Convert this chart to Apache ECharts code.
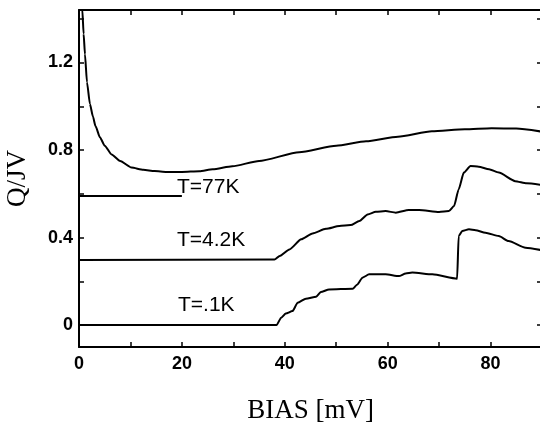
<!DOCTYPE html>
<html lang='en'>
  <head>
    <meta charset='utf-8'>
    <title>Q/JV vs BIAS</title>
  </head>
  <body style="margin:0;background:#fff;">
    <div id="main" style="width:540px;height:427px;"></div>
    <script src="https://cdn.jsdelivr.net/npm/echarts@6/dist/echarts.min.js"></script>
    <script>
      // T=77K curve
      var x77 = [0.3, 0.64, 0.9, 1.16, 1.55, 2.13, 2.7, 3.2, 4.07, 5, 6.34, 8, 10.2, 12.5, 14.7, 17, 20, 23.4, 26, 29.8, 35, 42.8, 50, 55.8, 62, 68.6, 75, 80.2, 85, 90];
      var y77 = [1.7, 1.443, 1.33, 1.238, 1.11, 1.01, 0.954, 0.91, 0.858, 0.82, 0.78, 0.75, 0.72, 0.71, 0.704, 0.7, 0.7, 0.703, 0.712, 0.726, 0.75, 0.79, 0.82, 0.84, 0.861, 0.886, 0.895, 0.9, 0.898, 0.884];
      // short flat segment next to the T=77K label
      var x77flat = [0, 20];
      var y77flat = [0.59, 0.59];
      // T=4.2K
      var x42 = [0, 38, 39, 40.9, 43.2, 45.4, 48, 50.6, 52.8, 54.5, 56.1, 57.7, 59.6, 61.6, 64.1, 66.1, 70, 71.9, 72.9, 73.8, 74.8, 76.1, 77.7, 79.7, 81.6, 84.8, 87, 90];
      var y42 = [0.298, 0.3, 0.316, 0.346, 0.392, 0.419, 0.44, 0.453, 0.457, 0.476, 0.506, 0.518, 0.521, 0.514, 0.526, 0.526, 0.517, 0.521, 0.544, 0.62, 0.697, 0.727, 0.724, 0.712, 0.697, 0.658, 0.648, 0.64];
      // T=.1K
      var x01 = [0, 38.4, 39.3, 40.2, 41.5, 42.5, 44.1, 46.1, 47, 48.6, 53.2, 54.1, 55.1, 56.4, 59.6, 62.2, 63.5, 64.8, 68.7, 73.5, 73.8, 74.5, 75.8, 77.1, 79, 81.6, 83.5, 86.8, 90];
      var y01 = [0, 0, 0.034, 0.053, 0.064, 0.102, 0.121, 0.13, 0.151, 0.163, 0.166, 0.186, 0.217, 0.232, 0.232, 0.224, 0.236, 0.24, 0.232, 0.212, 0.407, 0.43, 0.438, 0.434, 0.422, 0.407, 0.384, 0.354, 0.342];

      var xTicks = [0, 10, 20, 30, 40, 50, 60, 70, 80, 90];
      var xLabels = [0, 20, 40, 60, 80];
      var yTicks = [0, 0.2, 0.4, 0.6, 0.8, 1.0, 1.2, 1.4];
      var yLabels = [0, 0.4, 0.8, 1.2];

      function pairs(xs, ys) {
        var out = [];
        for (var i = 0; i < xs.length; i++) out.push([xs[i], ys[i]]);
        return out;
      }

      var myChart = echarts.init(document.getElementById('main'));

      // fresh objects for every axis
      function axLine() {
        return { show: true, onZero: false, lineStyle: { color: '#000', width: 2 } };
      }
      function axTick(values) {
        return { show: true, inside: true, length: 5, customValues: values, lineStyle: { color: '#000', width: 1.5 } };
      }
      function tickFont(values, margin) {
        return { margin: margin, customValues: values, fontFamily: 'Liberation Sans', fontSize: 18, fontWeight: 'bold', color: '#000' };
      }
      // labels kept on but empty, so the frame axes build like the main ones
      function blankLabels(values) {
        return { show: true, customValues: values, formatter: function () { return ''; } };
      }
      function titleFont() {
        return { fontFamily: 'Liberation Serif', fontSize: 27, color: '#000' };
      }
      var tagFont = '21px "Liberation Sans"';

      function serie(xs, ys) {
        return {
          type: 'line',
          data: pairs(xs, ys),
          showSymbol: false,
          smooth: 0.2,
          smoothMonotone: 'x',
          clip: true,
          lineStyle: { color: '#000', width: 2 },
          silent: true
        };
      }

      var option = {
        backgroundColor: '#fff',
        animation: false,
        grid: {
          left: 79, right: -2, top: 10, bottom: 80,
          outerBoundsMode: 'none', containLabel: false
        },
        xAxis: [{
          type: 'value', position: 'bottom', min: 0, max: 90,
          axisLine: axLine(),
          axisTick: axTick(xTicks),
          axisLabel: tickFont(xLabels, 8),
          splitLine: { show: false },
          name: 'BIAS [mV]', nameLocation: 'middle', nameGap: 50,
          nameTextStyle: titleFont()
        }, {
          type: 'value', position: 'top', min: 0, max: 90, interval: 10,
          axisLine: axLine(),
          axisTick: { show: true, inside: true, length: 5, lineStyle: { color: '#000', width: 1.5 } },
          axisLabel: { show: false },
          splitLine: { show: false }
        }],
        yAxis: [{
          type: 'value', position: 'left', min: -0.1, max: 1.44,
          axisLine: axLine(),
          axisTick: axTick(yTicks),
          axisLabel: tickFont(yLabels, 6),
          splitLine: { show: false },
          name: 'Q/JV', nameLocation: 'middle', nameGap: 48, nameRotate: 90,
          nameTextStyle: titleFont()
        }, {
          type: 'value', position: 'right', min: -0.1, max: 1.44,
          axisLine: axLine(),
          axisTick: axTick(yTicks),
          axisLabel: blankLabels(yTicks),
          splitLine: { show: false }
        }],
        series: [
          serie(x77, y77),
          serie(x77flat, y77flat),
          serie(x42, y42),
          serie(x01, y01)
        ],
        graphic: [
          { type: 'text', left: 177, top: 177, style: { text: 'T=77K', font: tagFont, fill: '#000' } },
          { type: 'text', left: 177, top: 230, style: { text: 'T=4.2K', font: tagFont, fill: '#000' } },
          { type: 'text', left: 178, top: 295, style: { text: 'T=.1K', font: tagFont, fill: '#000' } }
        ]
      };

      myChart.setOption(option);
    </script>
  </body>
</html>
